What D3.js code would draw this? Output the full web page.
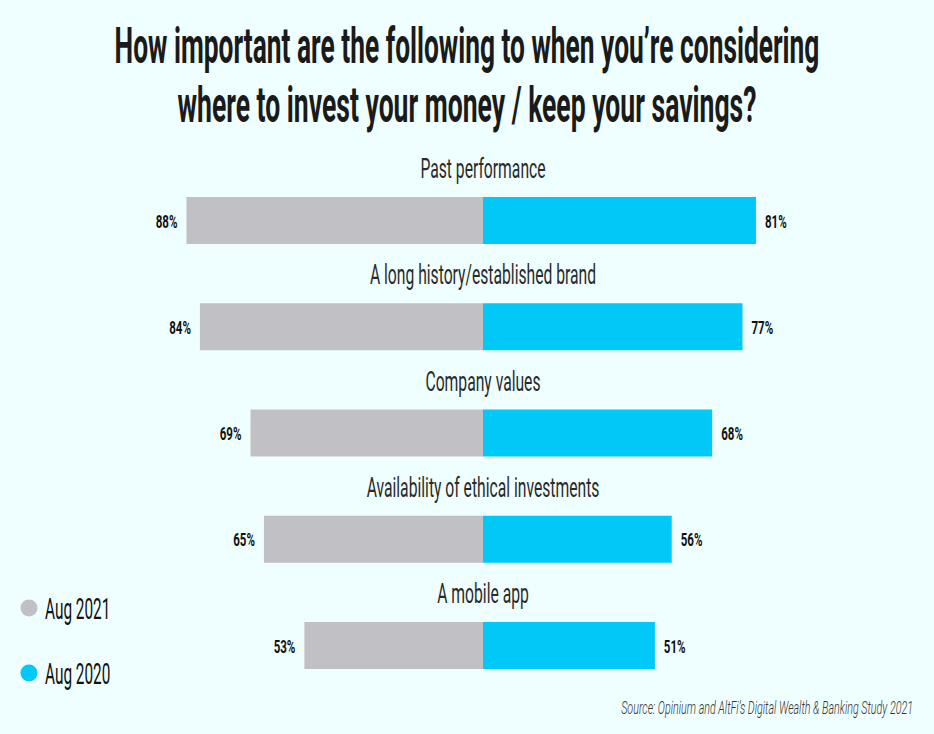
<!DOCTYPE html>
<html>
<head>
<meta charset="utf-8">
<script src="https://cdn.jsdelivr.net/npm/d3@7"></script>
<style>
  body { margin: 0; background: #effefe; }
  svg { display: block; font-family: Roboto, "Liberation Sans", sans-serif; }
</style>
</head>
<body>
<svg width="934" height="734"></svg>
<script>
// survey answers, share of respondents (%)
const categories = ["Past performance", "A long history/established brand", "Company values",
  "Availability of ethical investments", "A mobile app"];
const aug2021 = [88, 84, 69, 65, 53];
const aug2020 = [81, 77, 68, 56, 51];
const seriesNames = ["Aug 2021", "Aug 2020"];
const seriesColors = ["#c1c1c5", "#00c9f7"];

const svg = d3.select("svg");
const width = +svg.attr("width");

const center = 483;
const pxPerPct = 3.37;

// no condensed font installed, so squeeze the glyphs horizontally with a transform
const squeeze = (sel, k) => sel.each(function () {
    const t = d3.select(this);
    const x = +t.attr("x") || 0, y = +t.attr("y") || 0;
    const f = typeof k === "function" ? k(this.getComputedTextLength()) : k;
    t.attr("x", 0).attr("y", 0)
        .attr("transform", `translate(${x}, ${y}) scale(${f}, 1)`);
});

// left side grows towards the left, right side towards the right
const xLeft = d3.scaleLinear().domain([0, 100]).range([center, center - 100 * pxPerPct]);
const xRight = d3.scaleLinear().domain([0, 100]).range([center, center + 100 * pxPerPct]);

const yScale = d3.scaleBand()
    .domain(categories)
    .range([144, 675.25])
    .padding(0);

const barTop = 53;
const barH = 47;

// title
const titleLines = ["How important are the following to when you\u2019re considering",
  "where to invest your money / keep your savings?"];
const titleW = [705, 579];
svg.selectAll("text.title").data(titleLines)
    .enter().append("text")
    .attr("class", "title")
    .attr("x", width / 2)
    .attr("y", (d, i) => 63 + i * 59)
    .attr("text-anchor", "middle")
    .attr("font-size", 50)
    .attr("font-weight", "bold")
    .attr("fill", "#1a1a1a")
    .text(d => d)
    .each(function (d, i) { squeeze(d3.select(this), len => titleW[i] / len); });

const rows = svg.selectAll("g.row").data(categories)
    .enter().append("g")
    .attr("class", "row")
    .attr("transform", d => `translate(0, ${yScale(d)})`);

const catLabels = rows.append("text")
    .attr("x", center)
    .attr("y", barTop - 19)
    .attr("text-anchor", "middle")
    .attr("font-size", 28)
    .attr("fill", "#2a2a2a")
    .text(d => d);
squeeze(catLabels, 0.56);

rows.append("rect")
    .attr("x", (d, i) => xLeft(aug2021[i]))
    .attr("y", barTop)
    .attr("width", (d, i) => xLeft(0) - xLeft(aug2021[i]))
    .attr("height", barH)
    .attr("fill", seriesColors[0]);

rows.append("rect")
    .attr("x", xRight(0))
    .attr("y", barTop)
    .attr("width", (d, i) => xRight(aug2020[i]) - xRight(0))
    .attr("height", barH)
    .attr("fill", seriesColors[1]);

const leftVals = rows.append("text")
    .attr("x", (d, i) => xLeft(aug2021[i]) - 9)
    .attr("y", barTop + barH / 2 + 7)
    .attr("text-anchor", "end")
    .attr("font-size", 18)
    .attr("font-weight", "bold")
    .attr("fill", "#111")
    .text((d, i) => aug2021[i] + "%");
squeeze(leftVals, 0.64);

const rightVals = rows.append("text")
    .attr("x", (d, i) => xRight(aug2020[i]) + 9)
    .attr("y", barTop + barH / 2 + 7)
    .attr("font-size", 18)
    .attr("font-weight", "bold")
    .attr("fill", "#111")
    .text((d, i) => aug2020[i] + "%");
squeeze(rightVals, 0.64);

// legend
const legend = svg.selectAll("g.legend").data(seriesNames)
    .enter().append("g")
    .attr("class", "legend")
    .attr("transform", (d, i) => `translate(29, ${608 + i * 65})`);

legend.append("circle")
    .attr("r", 8.5)
    .attr("fill", (d, i) => seriesColors[i]);

const legText = legend.append("text")
    .attr("x", 16)
    .attr("y", 11)
    .attr("font-size", 29)
    .attr("fill", "#111")
    .text(d => d);
squeeze(legText, 0.53);

const source = svg.append("text")
    .attr("x", 913)
    .attr("y", 714)
    .attr("text-anchor", "end")
    .attr("font-size", 18)
    .attr("font-style", "italic")
    .attr("font-weight", 300)
    .attr("fill", "#333")
    .text("Source: Opinium and AltFi\u2019s Digital Wealth & Banking Study 2021");
squeeze(source, len => 292 / len);
</script>
</body>
</html>
